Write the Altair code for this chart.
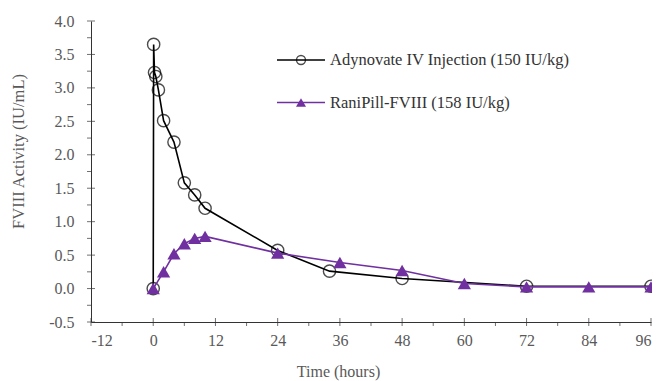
import altair as alt
import pandas as pd

# ---- data ----
iv_time = [0, 0.083, 0.25, 0.5, 1, 2, 4, 6, 8, 10, 24, 34, 48, 72, 96]
iv_value = [0.0, 3.65, 3.23, 3.17, 2.97, 2.51, 2.19, 1.58, 1.40, 1.20, 0.57, 0.26, 0.15, 0.035, 0.035]

pill_time = [0, 2, 4, 6, 8, 10, 24, 36, 48, 60, 72, 84, 96]
pill_value = [0.0, 0.25, 0.52, 0.67, 0.75, 0.78, 0.53, 0.39, 0.27, 0.075, 0.025, 0.025, 0.025]

series_names = ["Adynovate IV Injection (150 IU/kg)", "RaniPill-FVIII (158 IU/kg)"]

x_major = list(range(-12, 97, 12))
x_minor = list(range(-6, 97, 12))
y_major = [-0.5, 0.0, 0.5, 1.0, 1.5, 2.0, 2.5, 3.0, 3.5, 4.0]
y_minor = [-0.25, 0.25, 0.75, 1.25, 1.75, 2.25, 2.75, 3.25, 3.75]

BLACK = "#000000"
PURPLE = "#7030A0"
FONT = "Liberation Serif"
W, H = 560, 301

iv = pd.DataFrame({"t": iv_time, "v": iv_value})
pill = pd.DataFrame({"t": pill_time, "v": pill_value})

xs = alt.Scale(domain=[-12, 96], nice=False, zero=False)
ys = alt.Scale(domain=[-0.5, 4.0], nice=False, zero=False)

x_axis = alt.Axis(values=x_major, ticks=False, grid=False, labelPadding=10, labelOverlap=False,
                  labelExpr="(datum.value < 0 ? '-' : '') + format(abs(datum.value), 'd')",
                  title="Time (hours)", titleX=247, titleY=49,
                  titleAlign="center", titleBaseline="middle",
                  labelFontSize=16, titleFontSize=16)
y_axis = alt.Axis(values=y_major, ticks=False, grid=False, labelPadding=17, labelOverlap=False,
                  labelExpr="(datum.value < 0 ? '-' : '') + format(abs(datum.value), '.1f')",
                  title="FVIII Activity (IU/mL)", titleX=-73, titleY=130,
                  titleAlign="center", titleBaseline="middle", titleAngle=-90,
                  labelFontSize=16, titleFontSize=16.5)

base_iv = alt.Chart(iv).encode(
    x=alt.X("t:Q", scale=xs, axis=x_axis),
    y=alt.Y("v:Q", scale=ys, axis=y_axis),
)
iv_line = base_iv.mark_line(color=BLACK, strokeWidth=1.6)
iv_pts = base_iv.mark_point(shape="circle", filled=False, color=BLACK, size=150, strokeWidth=1.4)

base_pill = alt.Chart(pill).encode(x=alt.X("t:Q", scale=xs, axis=x_axis), y=alt.Y("v:Q", scale=ys, axis=y_axis))
pill_line = base_pill.mark_line(color=PURPLE, strokeWidth=1.6)
pill_pts = base_pill.mark_point(shape="triangle-up", filled=True, color=PURPLE, size=175, opacity=1)

# axis tick marks (crossing major ticks, outside minor ticks)
xmaj = alt.Chart(pd.DataFrame({"t": x_major})).mark_tick(
    orient="vertical", size=8, thickness=1, color="#333333"
).encode(x=alt.X("t:Q", scale=xs, axis=x_axis), y=alt.Y(datum=-0.5, scale=ys, axis=y_axis))
xmin = alt.Chart(pd.DataFrame({"t": x_minor})).mark_tick(
    orient="vertical", size=4, thickness=1, color="#333333", yOffset=2
).encode(x=alt.X("t:Q", scale=xs, axis=x_axis), y=alt.Y(datum=-0.5, scale=ys, axis=y_axis))
ymaj = alt.Chart(pd.DataFrame({"v": y_major})).mark_tick(
    orient="horizontal", size=8, thickness=1, color="#333333"
).encode(y=alt.Y("v:Q", scale=ys, axis=y_axis), x=alt.X(datum=-12, scale=xs, axis=x_axis))
ymin = alt.Chart(pd.DataFrame({"v": y_minor})).mark_tick(
    orient="horizontal", size=4, thickness=1, color="#333333", xOffset=-2
).encode(y=alt.Y("v:Q", scale=ys, axis=y_axis), x=alt.X(datum=-12, scale=xs, axis=x_axis))

# manual legend
leg = pd.DataFrame({"name": series_names})
lx0, lx1, lxt = 186, 234, 239
ly = [39, 81.5]
leg1_rule = alt.Chart(leg.iloc[[0]]).mark_rule(color=BLACK, strokeWidth=1.6).encode(
    x=alt.value(lx0), x2=alt.value(lx1), y=alt.value(ly[0]))
leg1_pt = alt.Chart(leg.iloc[[0]]).mark_point(shape="circle", filled=False, color=BLACK, size=80, strokeWidth=1.4).encode(
    x=alt.value((lx0 + lx1) / 2), y=alt.value(ly[0]))
leg1_txt = alt.Chart(leg.iloc[[0]]).mark_text(align="left", baseline="middle", font=FONT, fontSize=16.5, color="#333333").encode(
    x=alt.value(lxt), y=alt.value(ly[0]), text="name:N")
leg2_rule = alt.Chart(leg.iloc[[1]]).mark_rule(color=PURPLE, strokeWidth=1.6).encode(
    x=alt.value(lx0), x2=alt.value(lx1), y=alt.value(ly[1]))
leg2_pt = alt.Chart(leg.iloc[[1]]).mark_point(shape="triangle-up", filled=True, color=PURPLE, size=100, opacity=1).encode(
    x=alt.value((lx0 + lx1) / 2), y=alt.value(ly[1]))
leg2_txt = alt.Chart(leg.iloc[[1]]).mark_text(align="left", baseline="middle", font=FONT, fontSize=16.5, color="#333333").encode(
    x=alt.value(lxt), y=alt.value(ly[1]), text="name:N")

chart = alt.layer(
    iv_line, iv_pts, pill_line, pill_pts,
    xmaj, xmin, ymaj, ymin,
    leg1_rule, leg1_pt, leg1_txt, leg2_rule, leg2_pt, leg2_txt,
).properties(
    width=W, height=H,
    autosize=alt.AutoSizeParams(type="none"),
    padding={"left": 83, "top": 13, "right": 1, "bottom": 59},
).configure_view(stroke=None).configure_axis(
    labelFont=FONT, titleFont=FONT, labelColor="#595959", titleColor="#595959",
    titleFontWeight="normal", domainColor="#333333", domainWidth=1, labelOverlap=False,
)

chart.save("out.html", embed_options={"renderer": "svg", "actions": False})
